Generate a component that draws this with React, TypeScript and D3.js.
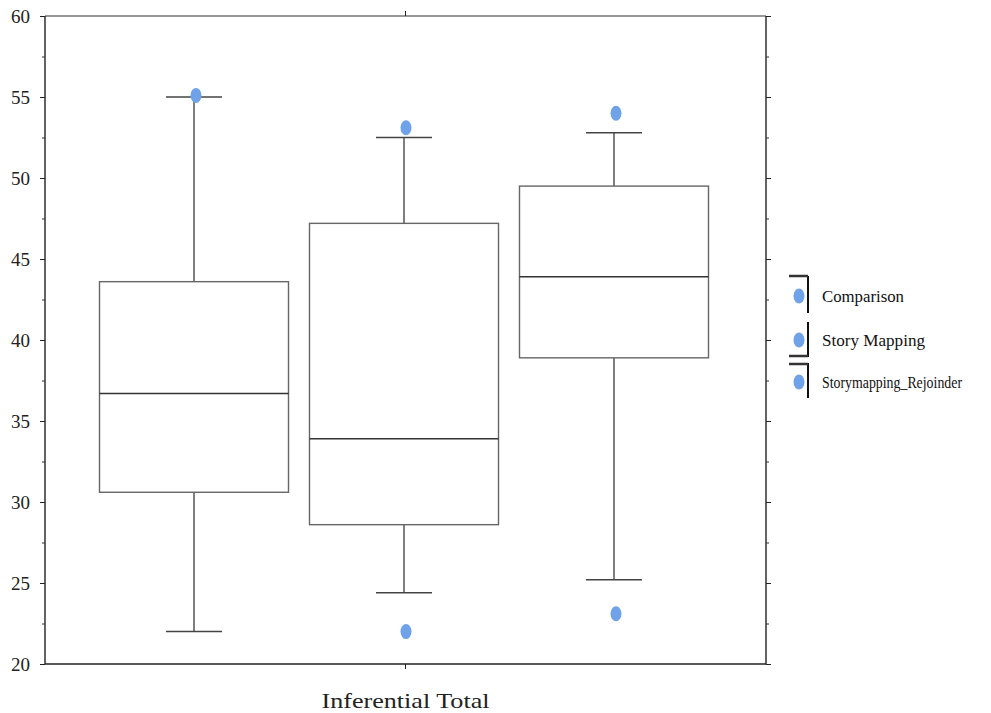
import React, { useEffect, useRef } from 'react';
import * as d3 from 'd3';

// group names, box stats
const groups = ['Comparison', 'Story Mapping', 'Storymapping_Rejoinder'];
const whiskerLow = [22.0, 24.4, 25.2];
const q1 = [30.6, 28.6, 38.9];
const median = [36.7, 33.9, 43.9];
const q3 = [43.6, 47.2, 49.5];
const whiskerHigh = [55.0, 52.5, 52.8];
const outliers = [[55.1], [53.1, 22.0], [54.0, 23.1]];
const yTicks = [20, 25, 30, 35, 40, 45, 50, 55, 60];
const legendWidths = [82, 103, 140];

const App = () => {
  const ref = useRef<SVGSVGElement>(null);

  useEffect(() => {
    const svg = d3.select(ref.current);
    svg.selectAll('*').remove();

    const left = 45, right = 766, top = 16, bottom = 664;
    const y = d3.scaleLinear().domain([20, 60]).range([bottom, top]);
    const x = d3.scaleBand().domain(groups).range([89, 719]);
    const boxW = x.bandwidth() * 0.9;
    const capW = 56;
    const blue = '#6fa2e8';
    const serif = "'Liberation Serif', 'Times New Roman', Times, serif";

    // frame
    svg.append('line').attr('x1', left).attr('x2', right).attr('y1', top).attr('y2', top)
      .attr('stroke', '#333').attr('stroke-width', 1.2);
    svg.append('line').attr('x1', left).attr('x2', right).attr('y1', bottom).attr('y2', bottom)
      .attr('stroke', '#222').attr('stroke-width', 1.4);
    svg.append('line').attr('x1', left).attr('x2', left).attr('y1', top).attr('y2', bottom)
      .attr('stroke', '#222').attr('stroke-width', 1.4);
    svg.append('line').attr('x1', right).attr('x2', right).attr('y1', top).attr('y2', bottom)
      .attr('stroke', '#222').attr('stroke-width', 1.4);

    // y axis left with minor ticks
    const leftAxis = svg.append('g').attr('transform', `translate(${left},0)`)
      .call(d3.axisLeft(y).tickValues(yTicks).tickSize(5).tickPadding(10).tickFormat(d3.format('d')));
    leftAxis.select('.domain').remove();
    leftAxis.selectAll('line').attr('stroke', '#222');
    leftAxis.selectAll('text').style('font-family', serif).style('font-size', '19px').attr('fill', '#222');

    const minor = d3.range(22.5, 60, 5);
    svg.append('g').attr('transform', `translate(${left},0)`)
      .call(d3.axisLeft(y).tickValues(minor).tickSize(3).tickFormat(() => ''))
      .call(g => g.select('.domain').remove())
      .selectAll('line').attr('stroke', '#333');

    // right axis ticks
    svg.append('g').attr('transform', `translate(${right},0)`)
      .call(d3.axisRight(y).tickValues(yTicks).tickSize(5).tickFormat(() => ''))
      .call(g => g.select('.domain').remove())
      .selectAll('line').attr('stroke', '#222');
    svg.append('g').attr('transform', `translate(${right},0)`)
      .call(d3.axisRight(y).tickValues(minor).tickSize(3).tickFormat(() => ''))
      .call(g => g.select('.domain').remove())
      .selectAll('line').attr('stroke', '#333');

    // center ticks on top and bottom
    const cx = (left + right) / 2;
    svg.append('line').attr('x1', cx).attr('x2', cx).attr('y1', top - 5).attr('y2', top)
      .attr('stroke', '#222');
    svg.append('line').attr('x1', cx).attr('x2', cx).attr('y1', bottom).attr('y2', bottom + 5)
      .attr('stroke', '#222');

    // boxes
    groups.forEach((gname, i) => {
      const c = (x(gname) as number) + x.bandwidth() / 2;
      const g = svg.append('g');
      g.append('line').attr('x1', c).attr('x2', c).attr('y1', y(whiskerHigh[i])).attr('y2', y(q3[i]))
        .attr('stroke', '#555').attr('stroke-width', 1.5);
      g.append('line').attr('x1', c).attr('x2', c).attr('y1', y(q1[i])).attr('y2', y(whiskerLow[i]))
        .attr('stroke', '#555').attr('stroke-width', 1.5);
      g.append('line').attr('x1', c - capW / 2).attr('x2', c + capW / 2)
        .attr('y1', y(whiskerHigh[i])).attr('y2', y(whiskerHigh[i]))
        .attr('stroke', '#444').attr('stroke-width', 1.5);
      g.append('line').attr('x1', c - capW / 2).attr('x2', c + capW / 2)
        .attr('y1', y(whiskerLow[i])).attr('y2', y(whiskerLow[i]))
        .attr('stroke', '#444').attr('stroke-width', 1.5);
      g.append('rect').attr('x', c - boxW / 2).attr('width', boxW)
        .attr('y', y(q3[i])).attr('height', y(q1[i]) - y(q3[i]))
        .attr('fill', 'white').attr('stroke', '#666').attr('stroke-width', 1.4);
      g.append('line').attr('x1', c - boxW / 2).attr('x2', c + boxW / 2)
        .attr('y1', y(median[i])).attr('y2', y(median[i]))
        .attr('stroke', '#333').attr('stroke-width', 1.5);
      outliers[i].forEach(v => {
        g.append('ellipse').attr('cx', c + 2).attr('cy', y(v)).attr('rx', 5.5).attr('ry', 7.5)
          .attr('fill', blue);
      });
    });

    // axis title
    svg.append('text').attr('x', cx).attr('y', 708).attr('text-anchor', 'middle')
      .style('font-family', serif).style('font-size', '22px').attr('fill', '#222')
      .attr('textLength', 168).attr('lengthAdjust', 'spacingAndGlyphs')
      .text('Inferential Total');

    // legend
    const legY = [296, 340, 382];
    const leg = svg.append('g');
    groups.forEach((gname, i) => {
      leg.append('ellipse').attr('cx', 799).attr('cy', legY[i]).attr('rx', 5.5).attr('ry', 7.5)
        .attr('fill', blue);
      leg.append('text').attr('x', 822).attr('y', legY[i] + 6)
        .style('font-family', serif).style('font-size', '16px').attr('fill', '#111')
        .attr('textLength', legendWidths[i]).attr('lengthAdjust', 'spacingAndGlyphs')
        .text(gname);
    });
    // bracket marks beside the legend keys
    const brackets = [[276, 313, 276], [322, 357, 356], [363, 398, 364]];
    brackets.forEach(([y1, y2, hy]) => {
      leg.append('line').attr('x1', 808).attr('x2', 808).attr('y1', y1).attr('y2', y2)
        .attr('stroke', '#111').attr('stroke-width', 2);
      leg.append('line').attr('x1', 789).attr('x2', 808).attr('y1', hy).attr('y2', hy)
        .attr('stroke', '#333').attr('stroke-width', 2.5);
    });
  }, []);

  return (
    <svg ref={ref} width={991} height={713}
      style={{ position: 'absolute', left: 0, top: 0, background: 'white' }} />
  );
};

export default App;
